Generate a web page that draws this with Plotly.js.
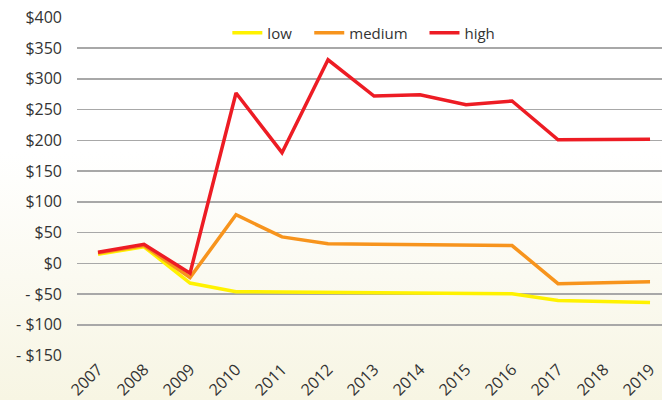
<!DOCTYPE html>
<html>
<head>
<meta charset="utf-8">
<script src="https://cdn.plot.ly/plotly-3.0.1.min.js"></script>
<style>
html,body{margin:0;padding:0;}
body{width:662px;height:400px;background:linear-gradient(to bottom,#ffffff 0%,#ffffff 38%,#f7f5e3 100%);}
#chart{width:662px;height:400px;}
</style>
</head>
<body>
<div id="chart"></div>
<script>
const years = ["2007","2008","2009","2010","2011","2012","2013","2014","2015","2016","2017","2018","2019"];
const low = [15, 27, -32, -46, -46.5, -47, -47.5, -48, -49, -49.5, -60.5, -62, -63.5];
const medium = [17, 29, -23, 79, 43, 32, 31, 30, 29.5, 29, -33, -31.5, -30];
const high = [18, 31, -16, 277, 180, 331, 272, 274, 258, 264, 201, 201.5, 202];
const yTickVals = [-150, -100, -50, 0, 50, 100, 150, 200, 250, 300, 350, 400];
const yTickText = ["- $150", "- $100", "- $50", "$0", "$50", "$100", "$150", "$200", "$250", "$300", "$350", "$400"];

const font = {family: "Open Sans, sans-serif", size: 16, color: "#333333"};
const legFont = {family: "Open Sans, sans-serif", size: 15, color: "#333333"};
const mk = (name, y, color, leg) => ({
  type: "scatter", mode: "lines", name: name, x: years, y: y, legend: leg,
  line: {color: color, width: 3.5}, hoverinfo: "skip"
});
const data = [
  mk("low", low, "#fff200", "legend"),
  mk("medium", medium, "#f7941d", "legend2"),
  mk("high", high, "#ed1c24", "legend3")
];
const legBase = {orientation: "h", y: 0.953, xanchor: "left", yanchor: "middle",
                 bgcolor: "rgba(0,0,0,0)", font: legFont, itemwidth: 30};
const layout = {
  width: 662, height: 400,
  paper_bgcolor: "rgba(0,0,0,0)", plot_bgcolor: "rgba(0,0,0,0)",
  margin: {l: 77, r: 0, t: 17, b: 44},
  font: font,
  showlegend: true,
  legend: Object.assign({}, legBase, {x: 0.257}),
  legend2: Object.assign({}, legBase, {x: 0.397}),
  legend3: Object.assign({}, legBase, {x: 0.594}),
  xaxis: {type: "category", range: [-0.457, 12.26], showgrid: false, zeroline: false,
          showline: false, ticks: "", tickangle: -45, tickfont: font, fixedrange: true},
  yaxis: {range: [-150.6, 400.6], tickvals: yTickVals, ticktext: yTickText,
          showgrid: true, gridcolor: "#a8a8a8", gridwidth: 1.3, zeroline: false,
          showline: false, ticks: "", tickfont: font, ticklabelstandoff: 14, fixedrange: true}
};
Plotly.newPlot("chart", data, layout, {displayModeBar: false, staticPlot: true});
</script>
</body>
</html>
